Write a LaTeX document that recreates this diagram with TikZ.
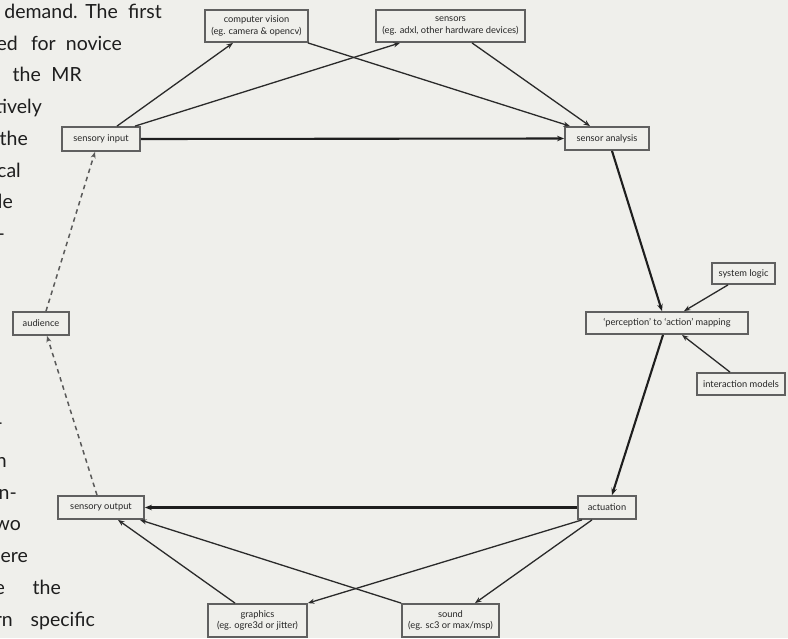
\documentclass[tikz,border=0pt]{standalone}
\usepackage{fontspec}
\setmainfont{Lato}
\newfontfamily\bodyfont{Lato}
\usetikzlibrary{arrows.meta,calc}
\definecolor{paper}{HTML}{EFEFEB}
\definecolor{ink}{HTML}{1E1E1E}
\definecolor{boxline}{HTML}{606060}
\definecolor{edgeink}{HTML}{2A2A2A}
\definecolor{labelink}{HTML}{262626}
\tikzset{
  stage/.style={draw=boxline, line width=1.8pt, fill=paper, inner sep=0pt,
    align=center, text=labelink, font=\fontsize{9.3}{11.6}\selectfont},
  flow/.style={draw=edgeink, line width=1.3pt, -{Stealth[length=6.5pt,width=5pt]}},
  mainflow/.style={draw=ink, line width=2.1pt, -{Stealth[length=7pt,width=5.5pt]}},
  feedback/.style={draw=black!65, line width=1.5pt, dash pattern=on 4.5pt off 4pt,
    -{Stealth[length=6.5pt,width=5pt]}},
  word/.style={inner sep=0pt, anchor=base east, text=ink,
    font=\bodyfont\fontsize{19.5}{23}\selectfont}
}
\begin{document}
\begin{tikzpicture}[x=1pt,y=-1pt]
\useasboundingbox (0,0) rectangle (788,638);
\fill[paper] (0,0) rectangle (788,638);

% column of body text running along the left edge
\node[word] (w1a) at (78,18.5) {demand.};
\node[word] (w1b) at (118,18.5) {The};
\node[word] (w1c) at (162,18.5) {first};
\node[word] (w2a) at (18,50.2) {ed};
\node[word] (w2b) at (56,50.2) {for};
\node[word] (w2c) at (122,50.2) {novice};
\node[word] (w3a) at (41,81.9) {the};
\node[word] (w3b) at (82,81.9) {MR};
\node[word] (w4a) at (42,113.6) {tively};
\node[word] (w5a) at (28,145.3) {the};
\node[word] (w6a) at (21,177) {cal};
\node[word] (w7a) at (13,208.7) {le};
\node[word] (w8a) at (5,240.4) {-};
\node[word] (w9a) at (3,429) {-};
\node[word] (w10a) at (7,467.5) {n};
\node[word] (w11a) at (17,499.2) {n-};
\node[word] (w12a) at (21,530.9) {wo};
\node[word] (w13a) at (28,562.6) {ere};
\node[word] (w14a) at (5,594.3) {e};
\node[word] (w14b) at (61,594.3) {the};
\node[word] (w15a) at (13,626) {rn};
\node[word] (w15b) at (95,626) {specific};

% stages of the interaction loop
\node[stage, minimum width=103pt, minimum height=32pt] (cv) at (256.5,26) {computer vision\\(eg. camera \& opencv)};
\node[stage, minimum width=149pt, minimum height=32pt] (sens) at (450.5,26) {sensors\\(eg. adxl, other hardware devices)};
\node[stage, minimum width=78pt, minimum height=24pt] (si) at (101,139) {sensory input};
\node[stage, minimum width=84pt, minimum height=23pt] (sa) at (607,138.5) {sensor analysis};
\node[stage, minimum width=63pt, minimum height=21pt] (sl) at (743.5,273.5) {system logic};
\node[stage, minimum width=162pt, minimum height=22pt] (pm) at (667,323) {`perception' to `action' mapping};
\node[stage, minimum width=88pt, minimum height=22pt] (im) at (741,384) {interaction models};
\node[stage, minimum width=56pt, minimum height=23pt] (aud) at (41,323.5) {audience};
\node[stage, minimum width=86pt, minimum height=23pt] (so) at (101,507.5) {sensory output};
\node[stage, minimum width=58pt, minimum height=23pt] (act) at (607,507.5) {actuation};
\node[stage, minimum width=99pt, minimum height=33pt] (gr) at (257.5,620.5) {graphics\\(eg. ogre3d or jitter)};
\node[stage, minimum width=97pt, minimum height=33pt] (snd) at (450.5,620.5) {sound\\(eg. sc3 or max/msp)};

% input side
\draw[flow] ([xshift=16pt]si.north) -- ([xshift=-23.5pt]cv.south);
\draw[flow] ([xshift=34pt]si.north) -- ([xshift=-50.5pt]sens.south);
\draw[flow] ([xshift=-1pt]cv.south east) -- ([xshift=-37pt]sa.north);
\draw[flow] ([xshift=21.5pt]sens.south) -- ([xshift=-17pt]sa.north);
\draw[mainflow] (si.east) -- (sa.west);

% mapping
\draw[mainflow] ([xshift=5pt]sa.south) -- ([xshift=-5pt]pm.north);
\draw[flow] ([xshift=-15.5pt]sl.south) -- ([xshift=17pt]pm.north);
\draw[flow] ([xshift=-11pt]im.north) -- ([xshift=15pt]pm.south);
\draw[mainflow] ([xshift=-4pt]pm.south) -- ([xshift=5pt]act.north);

% output side
\draw[mainflow] (act.west) -- (so.east);
\draw[flow] ([xshift=-25pt]act.south) -- (gr.north east);
\draw[flow] ([xshift=-15pt]act.south) -- ([xshift=24.5pt]snd.north);
\draw[flow] ([xshift=-22.5pt]gr.north) -- ([xshift=17pt]so.south);
\draw[flow] (snd.north west) -- ([xshift=39pt]so.south);

% the audience closes the loop
\draw[feedback] ([xshift=-4pt]so.north) -- ([xshift=6pt]aud.south);
\draw[feedback] ([xshift=5pt]aud.north) -- ([xshift=-6pt]si.south);
\end{tikzpicture}
\end{document}
